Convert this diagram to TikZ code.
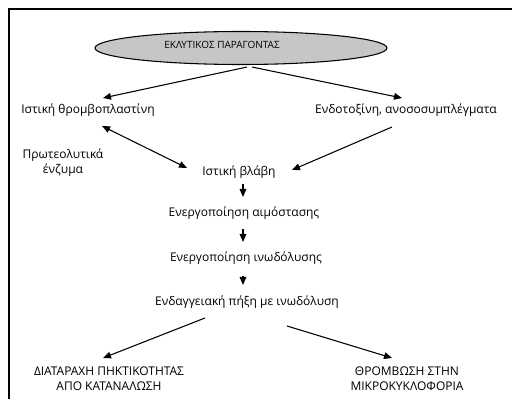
\documentclass[tikz,border=0pt]{standalone}
\usepackage{fontspec}
\setmainfont{Open Sans}
\usepackage{tikz}
\usetikzlibrary{shapes.geometric, arrows.meta, calc}

\begin{document}
\begin{tikzpicture}[
        x=0.75pt, y=-0.75pt,
        every node/.style={font=\fontsize{9}{11.25}\selectfont, inner sep=0pt, align=center},
        cause/.style={ellipse, draw, line width=0.8pt, fill=gray!45, minimum width=219pt, minimum height=24.75pt},
        arr/.style={-{Triangle[length=6pt,width=5pt]}, line width=0.8pt},
        darr/.style={{Triangle[length=6pt,width=5pt]}-{Triangle[length=6pt,width=5pt]}, line width=0.8pt}
    ]
        \useasboundingbox (0,0) rectangle (512,399);
        % frame
        \draw[line width=2pt] (9,399) -- (9,9) -- (512,9);

        \node[cause] (factor) at (241,48) {};
        \node[font=\fontsize{7.5}{9}\selectfont] (factorlbl) at (222,45) {ΕΚΛΥΤΙΚΟΣ ΠΑΡΑΓΟΝΤΑΣ};

        \node (tissue) at (88,110) {Ιστική θρομβοπλαστίνη};
        \node (endotox) at (406,110) {Ενδοτοξίνη, ανοσοσυμπλέγματα};
        \node (enzymes) at (63,163) {Πρωτεολυτικά\\ένζυμα};
        \node (damage) at (239,172) {Ιστική βλάβη};
        \node (haemost) at (244,213) {Ενεργοποίηση αιμόστασης};
        \node (fibrin) at (246,258) {Ενεργοποίηση ινωδόλυσης};
        \node (clot) at (247,302) {Ενδαγγειακή πήξη με ινωδόλυση};
        \node (consum) at (109,379) {ΔΙΑΤΑΡΑΧΗ ΠΗΚΤΙΚΟΤΗΤΑΣ\\ΑΠΟ ΚΑΤΑΝΑΛΩΣΗ};
        \node (micro) at (407,379) {ΘΡΟΜΒΩΣΗ ΣΤΗΝ\\ΜΙΚΡΟΚΥΚΛΟΦΟΡΙΑ};

        % from the factor
        \draw[arr] ($(factor.south)+(6,2)$) -- ($(tissue)+(15,-12)$);
        \draw[arr] ($(factor.south)+(11,2)$) -- ($(endotox)+(-4,-12)$);

        % towards the damage
        \draw[darr] ($(tissue)+(14,16)$) -- ($(damage)+(-52,-4)$);
        \draw[arr] ($(endotox)+(-14,17)$) -- ($(damage)+(53,-2)$);

        % cascade
        \draw[arr] ($(damage)+(4,12)$) -- ($(haemost)+(-1,-16)$);
        \draw[arr] ($(haemost)+(-1,16)$) -- ($(fibrin)+(-3,-16)$);
        \draw[arr] ($(fibrin)+(-3,18)$) -- ($(clot)+(-4,-17)$);

        % outcomes
        \draw[arr] ($(clot)+(-42,16)$) -- ($(consum)+(-6,-21)$);
        \draw[arr] ($(clot)+(40,24)$) -- ($(micro)+(-15,-21)$);
    \end{tikzpicture}
\end{document}
